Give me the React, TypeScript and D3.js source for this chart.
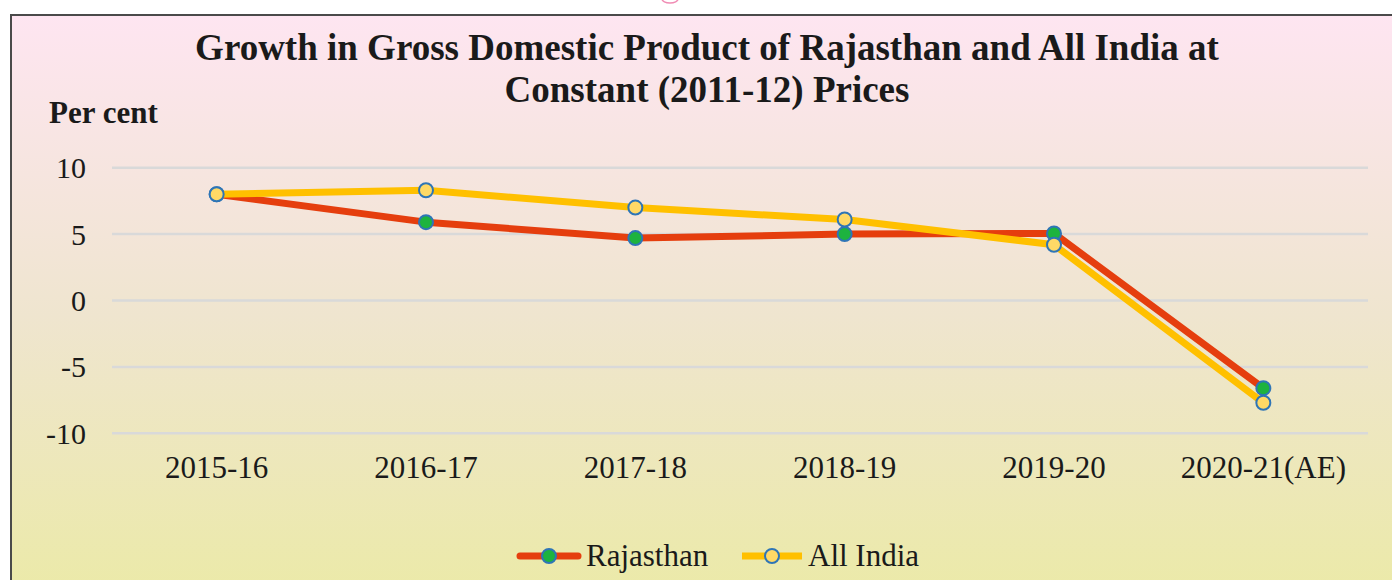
import * as d3 from "d3";

const years = ["2015-16", "2016-17", "2017-18", "2018-19", "2019-20", "2020-21(AE)"];
const rajasthan = [8.0, 5.9, 4.7, 5.0, 5.05, -6.6];
const allIndia = [8.0, 8.3, 7.0, 6.1, 4.2, -7.7];
const yTicks = [10, 5, 0, -5, -10];

const W = 1392;
const H = 580;
const FONT = "'Liberation Serif', 'Times New Roman', serif";

export default function App() {
  const x = d3.scalePoint<string>().domain(years).range([112, 1368]).padding(0.5);
  const y = d3.scaleLinear().domain([-10, 10]).range([433.3, 167.7]);

  const line = d3
    .line<number>()
    .x((_, i) => x(years[i]) as number)
    .y((d) => y(d));

  const series = [
    { name: "Rajasthan", values: rajasthan, stroke: "#e53e0e", fill: "#1db33f" },
    { name: "All India", values: allIndia, stroke: "#ffc000", fill: "#ffd966" },
  ];

  return (
    <svg
      width={W}
      height={H}
      viewBox={`0 0 ${W} ${H}`}
      style={{ position: "absolute", left: 0, top: 0, fontFamily: FONT }}
    >
      <defs>
        <linearGradient id="bg" x1="0" y1="0" x2="0" y2="1">
          <stop offset="0%" stopColor="#fee5f1" />
          <stop offset="50%" stopColor="#efe5cf" />
          <stop offset="100%" stopColor="#ebeaa5" />
        </linearGradient>
      </defs>
      <rect x={0} y={0} width={W} height={H} fill="#ffffff" />
      {/* bit of the decoration above the frame */}
      <ellipse cx={670} cy={-1} rx={8} ry={4} fill="none" stroke="#f08cb4" strokeWidth={1.5} />
      <rect x={11} y={15} width={W + 20} height={H + 20} fill="url(#bg)" stroke="#4a4a4a" strokeWidth={2} />

      <text x={707} y={60} textAnchor="middle" fontSize={37} fontWeight="bold" fill="#1a1a1a">
        Growth in Gross Domestic Product of Rajasthan and All India at
      </text>
      <text x={707} y={102} textAnchor="middle" fontSize={37} fontWeight="bold" fill="#1a1a1a">
        Constant (2011-12) Prices
      </text>
      <text x={49} y={123} fontSize={31} fontWeight="bold" fill="#1a1a1a">
        Per cent
      </text>

      {/* grid + y ticks */}
      {yTicks.map((t) => (
        <g key={t}>
          <line x1={112} x2={1368} y1={y(t)} y2={y(t)} stroke="#d9d9d9" strokeWidth={2.5} />
          <text x={86} y={y(t) + 10.5} textAnchor="end" fontSize={30} fill="#1a1a1a">
            {t}
          </text>
        </g>
      ))}

      {/* x labels */}
      {years.map((yr) => (
        <text key={yr} x={x(yr)} y={478} textAnchor="middle" fontSize={31} fill="#1a1a1a">
          {yr}
        </text>
      ))}

      {/* series */}
      {series.map((s) => (
        <g key={s.name}>
          <path d={line(s.values) ?? ""} fill="none" stroke={s.stroke} strokeWidth={7} strokeLinejoin="round" />
          {s.values.map((v, i) => (
            <circle
              key={i}
              cx={x(years[i])}
              cy={y(v)}
              r={7}
              fill={s.fill}
              stroke="#2e75b6"
              strokeWidth={2}
            />
          ))}
        </g>
      ))}

      {/* legend */}
      <g>
        <line x1={520} x2={578} y1={556} y2={556} stroke="#e53e0e" strokeWidth={7} strokeLinecap="round" />
        <circle cx={549} cy={556} r={7} fill="#1db33f" stroke="#2e75b6" strokeWidth={2} />
        <text x={586} y={566} fontSize={31} fill="#1a1a1a">
          Rajasthan
        </text>
        <line x1={742} x2={802} y1={556} y2={556} stroke="#ffc000" strokeWidth={7} />
        <circle cx={772} cy={556} r={7} fill="#ffd966" stroke="#2e75b6" strokeWidth={2} />
        <text x={808} y={566} fontSize={31} fill="#1a1a1a">
          All India
        </text>
      </g>
    </svg>
  );
}
